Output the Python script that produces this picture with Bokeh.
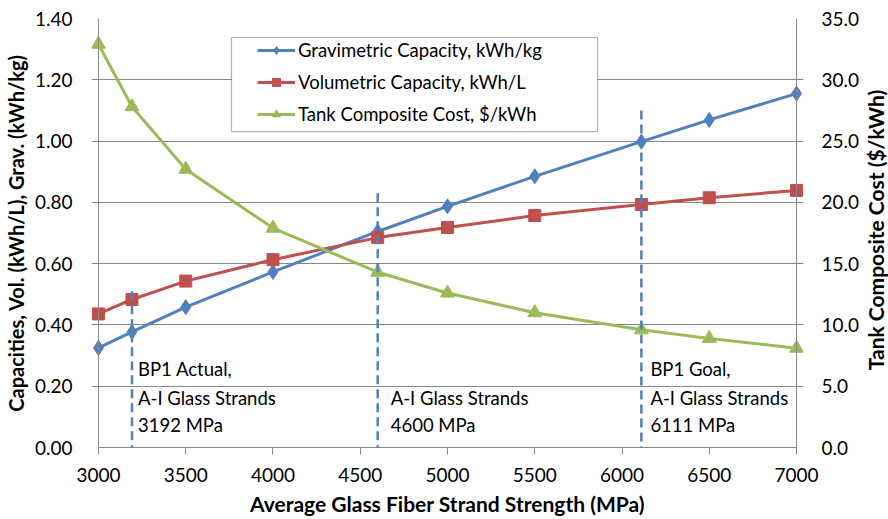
import math
from bokeh.plotting import figure
from bokeh.layouts import row
from bokeh.models import (Range1d, LinearAxis, Span, Arrow, Legend, LegendItem,
                          ColumnDataSource, FixedTicker, BoxAnnotation, NumeralTickFormatter)
from bokeh.core.properties import value
from bokeh.embed import file_html
from bokeh.resources import INLINE

# ---------------- data ----------------
strength = [3000, 3192, 3500, 4000, 4600, 5000, 5500, 6111, 6500, 7000]
grav_capacity = [0.325, 0.377, 0.458, 0.573, 0.705, 0.787, 0.885, 0.998, 1.069, 1.155]
vol_capacity = [0.436, 0.483, 0.543, 0.613, 0.685, 0.718, 0.757, 0.793, 0.815, 0.839]
tank_cost = [32.9, 27.8, 22.7, 17.9, 14.3, 12.6, 11.0, 9.6, 8.9, 8.1]

x_ticks = [3000, 3500, 4000, 4500, 5000, 5500, 6000, 6500, 7000]
left_ticks = [0.0, 0.2, 0.4, 0.6, 0.8, 1.0, 1.2, 1.4]
right_ticks = [0, 5, 10, 15, 20, 25, 30, 35]

marker_x = [3192, 4600, 6111]
marker_top = [0.51, 0.83, 1.10]
marker_bottom = [-0.075, -0.075, -0.075]

note_x = [3192, 3192, 3192, 4600, 4600, 6111, 6111, 6111]
note_y = [0.255, 0.16, 0.075, 0.16, 0.075, 0.255, 0.16, 0.075]
note_text = ["BP1 Actual,", "A-I Glass Strands", "3192 MPa",
             "A-I Glass Strands", "4600 MPa",
             "BP1 Goal,", "A-I Glass Strands", "6111 MPa"]
note_offset = [6, 6, 6, 13, 13, 9, 9, 9]

series_names = ["Gravimetric Capacity, kWh/kg", "Volumetric Capacity, kWh/L",
                "Tank Composite Cost, $/kWh"]
x_title = "Average Glass Fiber Strand Strength (MPa)"
left_title = "Capacities, Vol. (kWh/L), Grav. (kWh/kg)"
right_title = "Tank Composite Cost ($/kWh)"

BLUE = "#4F81BD"
RED = "#C0504D"
GREEN = "#9BBB59"
GRID = "#888888"
FONT = "Lato"
TICK_FS = "19px"
TITLE_FS = "21px"

p = figure(frame_width=712, frame_height=429,
           x_range=Range1d(2960, 7040), y_range=Range1d(0, 1.4),
           output_backend="svg", toolbar_location=None,
           min_border_left=88, min_border_right=50, min_border_top=18, min_border_bottom=71)
p.extra_y_ranges = {"cost": Range1d(0, 35)}
p.outline_line_color = None
p.background_fill_color = "white"

# grid
p.xgrid.visible = False
p.ygrid.grid_line_color = GRID
p.ygrid.grid_line_width = 1

# bottom axis
xa = p.xaxis[0]
xa.ticker = FixedTicker(ticks=x_ticks)
xa.bounds = (x_ticks[0], x_ticks[-1])
xa.axis_line_color = GRID
xa.major_tick_line_color = GRID
xa.major_tick_out = 7
xa.major_tick_in = 0
xa.minor_tick_line_color = None
xa.major_label_standoff = 13
xa.major_label_text_font = FONT
xa.major_label_text_font_size = TICK_FS
xa.major_label_text_color = "black"
xa.axis_label = x_title
xa.axis_label_text_font = FONT
xa.axis_label_text_font_size = TITLE_FS
xa.axis_label_text_font_style = "bold"
xa.axis_label_text_color = "black"
xa.axis_label_standoff = 6

# left axis
ya = p.yaxis[0]
ya.ticker = FixedTicker(ticks=left_ticks)
ya.formatter = NumeralTickFormatter(format="0.00")
ya.axis_line_color = None
ya.major_tick_line_color = None
ya.minor_tick_line_color = None
ya.major_label_standoff = 13
ya.major_label_text_font = FONT
ya.major_label_text_font_size = TICK_FS
ya.major_label_text_color = "black"
ya.axis_label = left_title
ya.axis_label_text_font = FONT
ya.axis_label_text_font_size = "20px"
ya.axis_label_text_font_style = "bold"
ya.axis_label_text_color = "black"
ya.axis_label_standoff = 4

# right axis (its title sits in a narrow companion figure so it reads bottom-to-top)
ra = LinearAxis(y_range_name="cost")
ra.ticker = FixedTicker(ticks=right_ticks)
ra.formatter = NumeralTickFormatter(format="0.0")
ra.axis_line_color = None
ra.major_tick_line_color = None
ra.minor_tick_line_color = None
ra.major_label_standoff = 12
ra.major_label_text_font = FONT
ra.major_label_text_font_size = TICK_FS
ra.major_label_text_color = "black"
p.add_layout(ra, "right")

# vertical axis lines at the ends of the value range
p.add_layout(Span(location=x_ticks[0], dimension="height", line_color=GRID, line_width=1))
p.add_layout(Span(location=x_ticks[-1], dimension="height", line_color=GRID, line_width=1))

# dashed marker lines
msrc = ColumnDataSource(dict(x=marker_x, top=marker_top, bottom=marker_bottom))
p.add_layout(Arrow(end=None, x_start="x", y_start="top", x_end="x", y_end="bottom",
                   source=msrc, line_color=BLUE, line_width=2.5, line_dash="9 5"))

# series
src = ColumnDataSource(dict(x=strength, g=grav_capacity, v=vol_capacity, c=tank_cost))
l1 = p.line("x", "g", source=src, line_color=BLUE, line_width=3)
s1 = p.scatter("x", "g", source=src, marker="diamond", size=15, fill_color=BLUE, line_color=BLUE)
l2 = p.line("x", "v", source=src, line_color=RED, line_width=3)
s2 = p.scatter("x", "v", source=src, marker="square", size=12, fill_color=RED, line_color=RED)
l3 = p.line("x", "c", source=src, line_color=GREEN, line_width=3, y_range_name="cost")
s3 = p.scatter("x", "c", source=src, marker="triangle", size=14, fill_color=GREEN,
               line_color=GREEN, y_range_name="cost")

# notes
nsrc = ColumnDataSource(dict(x=note_x, y=note_y, t=note_text, xo=note_offset))
p.text(x="x", y="y", text="t", x_offset="xo", source=nsrc, text_font=value(FONT),
       text_font_size="18.5px", text_baseline="middle", text_align="left", text_color="black")

# legend box
p.add_layout(BoxAnnotation(left=3762, right=5860, top=1.338, bottom=1.031,
                           fill_color="white", fill_alpha=1, line_color="black",
                           line_width=1.2, level="annotation"))

legend = Legend(items=[LegendItem(label=series_names[0], renderers=[l1, s1]),
                       LegendItem(label=series_names[1], renderers=[l2, s2]),
                       LegendItem(label=series_names[2], renderers=[l3, s3])],
                location=(166, 322))
legend.padding = 0
legend.margin = 0
legend.spacing = 10
legend.glyph_width = 38
legend.glyph_height = 20
legend.label_height = 20
legend.label_standoff = 3
legend.label_text_font = FONT
legend.label_text_font_size = "18.5px"
legend.label_text_color = "black"
legend.border_line_color = None
legend.background_fill_alpha = 0
p.add_layout(legend)

# companion strip holding the right-hand axis title
q = figure(width=26, height=518, x_range=Range1d(0, 1), y_range=Range1d(0, 1),
           output_backend="svg", toolbar_location=None,
           min_border_left=0, min_border_right=0, min_border_top=0, min_border_bottom=0)
q.axis.visible = False
q.grid.visible = False
q.outline_line_color = None
q.text(x=[0.5], y=[0.507], text=[right_title], angle=math.pi / 2,
       text_font=value(FONT), text_font_size=TITLE_FS, text_font_style="bold",
       text_align="center", text_baseline="middle", text_color="black")

layout = row(p, q, spacing=0)
open("out.html", "w").write(file_html(layout, INLINE))
